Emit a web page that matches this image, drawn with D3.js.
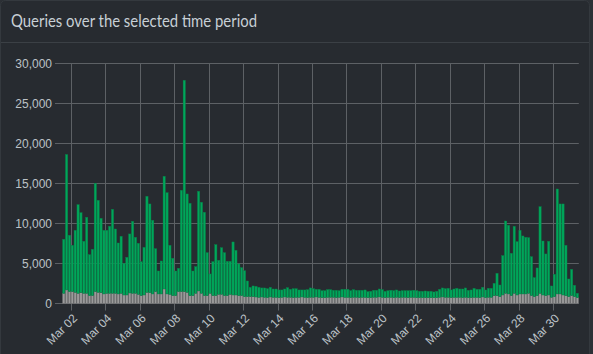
<!DOCTYPE html>
<html>
<head>
<meta charset="utf-8">
<script src="https://cdn.jsdelivr.net/npm/d3@7"></script>
<style>
  html, body { margin: 0; padding: 0; background: #2c3035; }
  svg { display: block; }
</style>
</head>
<body>
<svg id="chart" width="593" height="354"></svg>
<script>
// 4-hour slots, first one starts Mar 01 12:00
var slotStart = new Date(2021, 2, 1, 12);
var slotHours = 4;

// total queries per slot (top of the green bar)
var total = [
  8000, 18600, 8500, 7250, 9125, 12330, 11330, 7750, 10750, 6080,
  6750, 15000, 12875, 10625, 9125, 9125, 9625, 11750, 9290, 7540,
  8375, 5000, 5750, 8670, 10250, 8250, 7500, 5200, 7000, 13375,
  12420, 10375, 6830, 4040, 5290, 15875, 13830, 7250, 5625, 4040,
  4375, 14125, 27875, 13670, 12500, 4040, 4580, 14000, 12625, 11375,
  6330, 3670, 5210, 7330, 5375, 6960, 6330, 5250, 5250, 7670,
  6625, 4920, 4460, 4080, 2790, 2000, 2170, 2125, 2000, 1920,
  1920, 1830, 2000, 1790, 1790, 1670, 1670, 1790, 1960, 1750,
  1830, 1830, 1670, 1670, 1670, 1710, 1920, 1830, 1750, 1750,
  1580, 1580, 1710, 1710, 1625, 1625, 1580, 1750, 1750, 1750,
  1580, 1710, 1625, 1625, 1625, 1670, 1460, 1500, 1625, 1625,
  1790, 1710, 1500, 1580, 1625, 1580, 1670, 1540, 1580, 1580,
  1580, 1580, 1625, 1580, 1500, 1500, 1540, 1500, 1500, 1420,
  1500, 1750, 1920, 1830, 1875, 1670, 1790, 1875, 1790, 1790,
  1920, 1620, 1670, 1875, 1750, 1750, 2000, 1670, 1875, 1875,
  2500, 3750, 2290, 5960, 10290, 9750, 6250, 9625, 7710, 9125,
  8420, 8250, 8210, 5830, 3210, 4420, 12080, 7790, 6170, 7750,
  2170, 3625, 14290, 12420, 12420, 7250, 3040, 4250, 2250, 1250
];

// blocked queries per slot (grey part)
var blocked = [
  1250, 1670, 1460, 1460, 1370, 1250, 1330, 1250, 1250, 960,
  960, 1460, 1370, 1330, 1170, 1250, 1250, 1250, 1250, 1170,
  1250, 1040, 1040, 1290, 1250, 1250, 1120, 960, 1040, 1370,
  1330, 1170, 1460, 1170, 1170, 1790, 1170, 1125, 960, 960,
  1460, 1460, 1460, 1370, 960, 960, 1250, 1540, 1250, 960,
  960, 1250, 960, 960, 1125, 1125, 960, 960, 1125, 1040,
  1040, 960, 960, 830, 830, 830, 830, 790, 750, 790,
  750, 710, 790, 750, 750, 710, 750, 790, 750, 750,
  710, 750, 750, 790, 750, 710, 750, 750, 790, 750,
  710, 710, 750, 750, 750, 710, 750, 790, 750, 750,
  710, 750, 750, 710, 750, 750, 710, 710, 750, 750,
  790, 750, 710, 750, 750, 710, 750, 710, 750, 750,
  710, 750, 750, 710, 700, 700, 710, 700, 700, 700,
  700, 750, 790, 750, 750, 710, 750, 750, 750, 710,
  750, 700, 710, 750, 750, 710, 790, 700, 750, 750,
  960, 960, 830, 1040, 1250, 1170, 960, 1250, 1040, 1170,
  1170, 1170, 1250, 960, 830, 960, 1250, 1040, 960, 1040,
  750, 830, 1170, 1170, 1040, 960, 830, 960, 830, 700
];

var yTicks = [0, 5000, 10000, 15000, 20000, 25000, 30000];
var tickDays = [2, 4, 6, 8, 10, 12, 14, 16, 18, 20, 22, 24, 26, 28, 30];

var title = "Queries over the selected time period";

var svg = d3.select("#chart");

// card
svg.append("rect")
  .attr("x", 0.5).attr("y", 0.5)
  .attr("width", 589).attr("height", 360)
  .attr("rx", 5)
  .attr("fill", "#272b30")
  .attr("stroke", "#34393e");

svg.append("text")
  .attr("x", 11).attr("y", 27)
  .attr("font-family", "Lato, 'Open Sans', sans-serif")
  .attr("font-size", 17.5)
  .attr("fill", "#c8d0d6")
  .attr("textLength", 246)
  .attr("lengthAdjust", "spacingAndGlyphs")
  .text(title);

svg.append("line")
  .attr("x1", 1).attr("x2", 589)
  .attr("y1", 42.5).attr("y2", 42.5)
  .attr("stroke", "#3b4045");

var slots = total.map(function(t, i) {
  return {
    time: d3.timeHour.offset(slotStart, i * slotHours),
    total: t,
    blocked: blocked[i]
  };
});

var xScale = d3.scaleTime()
  .domain([slotStart, d3.timeHour.offset(slotStart, total.length * slotHours)])
  .range([62.3, 578.8]);

var yScale = d3.scaleLinear()
  .domain([0, 30000])
  .range([303.3, 63.3]);

var tickDates = tickDays.map(function(d) { return new Date(2021, 2, d); });

// grid
var grid = svg.append("g").attr("class", "grid");
grid.selectAll(".hgrid").data(yTicks).enter().append("line")
  .attr("class", "hgrid")
  .attr("x1", 55).attr("x2", 578.8)
  .attr("y1", function(d) { return Math.round(yScale(d)) + 0.5; })
  .attr("y2", function(d) { return Math.round(yScale(d)) + 0.5; })
  .attr("stroke", "#5d6165");

grid.selectAll(".vgrid").data(tickDates).enter().append("line")
  .attr("class", "vgrid")
  .attr("x1", function(d) { return Math.round(xScale(d)) + 0.5; })
  .attr("x2", function(d) { return Math.round(xScale(d)) + 0.5; })
  .attr("y1", 63.3).attr("y2", 310.5)
  .attr("stroke", "#5d6165");

// bars
var step = xScale(d3.timeHour.offset(slotStart, slotHours)) - xScale(slotStart);
var bw = step - 0.6;

var bars = svg.append("g").attr("class", "bars");
bars.selectAll(".blocked").data(slots).enter().append("rect")
  .attr("class", "blocked")
  .attr("x", function(d) { return xScale(d.time) + 0.3; })
  .attr("y", function(d) { return yScale(d.blocked); })
  .attr("width", bw)
  .attr("height", function(d) { return yScale(0) - yScale(d.blocked); })
  .attr("fill", "#9a9a9a")
  .attr("stroke", "#7b7b7b")
  .attr("stroke-width", 0.4);

bars.selectAll(".permitted").data(slots).enter().append("rect")
  .attr("class", "permitted")
  .attr("x", function(d) { return xScale(d.time) + 0.3; })
  .attr("y", function(d) { return yScale(d.total); })
  .attr("width", bw)
  .attr("height", function(d) { return yScale(d.blocked) - yScale(d.total); })
  .attr("fill", "#00a65a")
  .attr("stroke", "#078148")
  .attr("stroke-width", 0.4);

// y labels
var fmt = d3.format(",");
svg.append("g").selectAll("text").data(yTicks).enter().append("text")
  .attr("x", 52)
  .attr("y", function(d) { return yScale(d) + 4.5; })
  .attr("text-anchor", "end")
  .attr("font-family", "'Liberation Sans', Arial, sans-serif")
  .attr("font-size", 12)
  .attr("fill", "#bcc2c7")
  .text(function(d) { return fmt(d); });

// x labels, rotated
var dayFmt = d3.timeFormat("%b %d");
svg.append("g").selectAll("text").data(tickDates).enter().append("text")
  .attr("transform", function(d) {
    return "translate(" + (xScale(d) + 7) + ",319) rotate(-45)";
  })
  .attr("text-anchor", "end")
  .attr("font-family", "'Liberation Sans', Arial, sans-serif")
  .attr("font-size", 12)
  .attr("fill", "#bcc2c7")
  .text(function(d) { return dayFmt(d); });
</script>
</body>
</html>
